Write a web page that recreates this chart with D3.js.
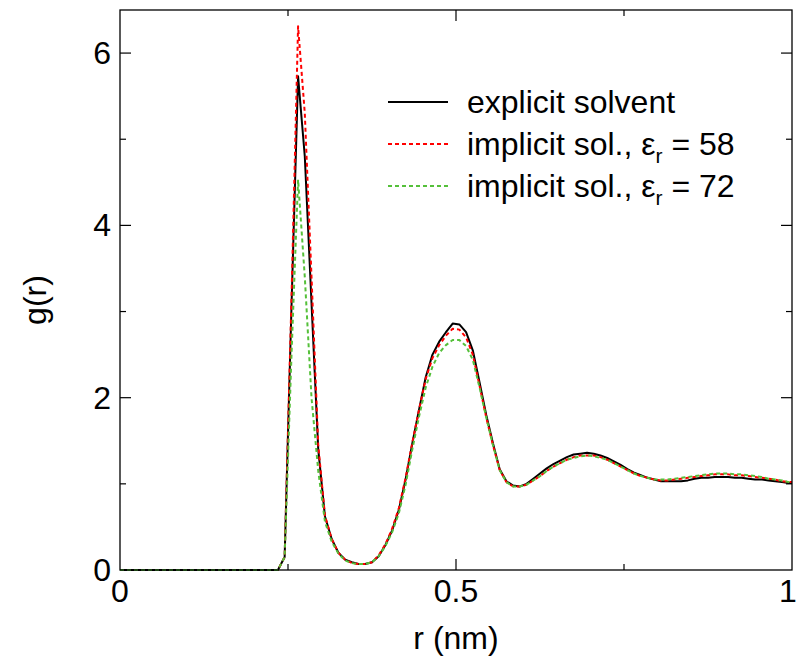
<!DOCTYPE html>
<html lang="en">
<head>
    <meta charset="UTF-8">
    <title>g(r)</title>
    <script src="https://cdn.jsdelivr.net/npm/d3@7"></script>
    <style>
        body { margin: 0; background: #fff; }
        text { font-family: "Liberation Sans", Arial, sans-serif; }
    </style>
</head>
<body>
<div id="container"></div>
<script>
    // r grid (nm)
    let r = [0, 0.235, 0.245, 0.255, 0.265, 0.275, 0.285, 0.295, 0.305, 0.315,
        0.325, 0.335, 0.345, 0.355, 0.365, 0.375, 0.385, 0.395, 0.405, 0.415,
        0.425, 0.435, 0.445, 0.455, 0.465, 0.475, 0.485, 0.495, 0.505, 0.515,
        0.525, 0.535, 0.545, 0.555, 0.565, 0.575, 0.585, 0.595, 0.605, 0.615,
        0.625, 0.635, 0.645, 0.655, 0.665, 0.675, 0.685, 0.695, 0.705, 0.715,
        0.725, 0.735, 0.745, 0.755, 0.765, 0.775, 0.785, 0.795, 0.805, 0.815,
        0.825, 0.835, 0.845, 0.855, 0.865, 0.875, 0.885, 0.895, 0.905, 0.915,
        0.925, 0.935, 0.945, 0.955, 0.965, 0.975, 0.985, 0.995, 1.0]

    let explicitG = [0, 0, 0.15, 3.0, 5.73, 4.8, 3.1, 1.40, 0.62, 0.36,
        0.20, 0.12, 0.09, 0.07, 0.07, 0.09, 0.16, 0.29, 0.46, 0.70,
        1.05, 1.47, 1.86, 2.24, 2.50, 2.65, 2.76, 2.86, 2.85, 2.76,
        2.55, 2.18, 1.80, 1.47, 1.17, 1.03, 0.98, 0.97, 1.00, 1.06,
        1.12, 1.18, 1.23, 1.27, 1.31, 1.34, 1.35, 1.36, 1.35, 1.33,
        1.30, 1.26, 1.22, 1.17, 1.13, 1.10, 1.07, 1.05, 1.03, 1.03,
        1.03, 1.03, 1.04, 1.06, 1.07, 1.07, 1.08, 1.08, 1.08, 1.07,
        1.07, 1.06, 1.05, 1.05, 1.04, 1.03, 1.02, 1.01, 1.01]

    let implicit58 = [0, 0, 0.15, 3.1, 6.31, 5.3, 3.4, 1.45, 0.63, 0.36,
        0.20, 0.12, 0.08, 0.07, 0.07, 0.09, 0.17, 0.30, 0.48, 0.72,
        1.07, 1.48, 1.86, 2.22, 2.46, 2.61, 2.72, 2.80, 2.79, 2.70,
        2.50, 2.14, 1.77, 1.45, 1.16, 1.02, 0.97, 0.97, 0.99, 1.04,
        1.09, 1.15, 1.20, 1.24, 1.28, 1.31, 1.33, 1.33, 1.33, 1.31,
        1.28, 1.24, 1.20, 1.16, 1.12, 1.09, 1.07, 1.05, 1.04, 1.04,
        1.05, 1.06, 1.07, 1.08, 1.09, 1.10, 1.11, 1.11, 1.11, 1.10,
        1.10, 1.09, 1.08, 1.07, 1.06, 1.05, 1.03, 1.02, 1.02]

    let implicit72 = [0, 0, 0.15, 2.45, 4.53, 3.4, 2.0, 1.15, 0.56, 0.33,
        0.19, 0.11, 0.08, 0.07, 0.07, 0.09, 0.16, 0.28, 0.44, 0.66,
        0.99, 1.40, 1.78, 2.12, 2.36, 2.52, 2.61, 2.67, 2.67, 2.60,
        2.44, 2.12, 1.77, 1.45, 1.16, 1.02, 0.97, 0.97, 0.99, 1.04,
        1.09, 1.15, 1.20, 1.24, 1.28, 1.30, 1.32, 1.33, 1.32, 1.30,
        1.28, 1.24, 1.20, 1.16, 1.12, 1.09, 1.07, 1.05, 1.05, 1.05,
        1.06, 1.07, 1.08, 1.09, 1.10, 1.11, 1.12, 1.12, 1.12, 1.11,
        1.11, 1.10, 1.09, 1.08, 1.06, 1.05, 1.04, 1.02, 1.02]

    let xTicks = [0, 0.5, 1]
    let xMinor = [0.25, 0.75]
    let yTicks = [0, 2, 4, 6]
    let yMinor = [1, 3, 5]

    let width = 798
    let height = 662
    let padLeft = 120, padRight = 792, padTop = 10, padBottom = 570

    let svg = d3.select('#container')
        .append('svg')
        .attr('width', width)
        .attr('height', height)

    let x_axis = d3.scaleLinear().domain([0, 1]).range([padLeft, padRight])
    let y_axis = d3.scaleLinear().domain([0, 6.5]).range([padBottom, padTop])

    // curves: black first, dashed ones on top
    let series = [
        {name: 'explicit', vals: explicitG, color: '#000000', dash: null, w: 2},
        {name: 'eps58', vals: implicit58, color: '#ff0000', dash: '4,3', w: 2},
        {name: 'eps72', vals: implicit72, color: '#55c03a', dash: '4,3', w: 2}
    ]

    let line = d3.line()
        .x(function (d) { return x_axis(d[0]) })
        .y(function (d) { return y_axis(d[1]) })

    series.forEach(function (s) {
        svg.append('path')
            .datum(r.map(function (v, i) { return [v, s.vals[i]] }))
            .attr('d', line)
            .attr('fill', 'none')
            .attr('stroke', s.color)
            .attr('stroke-width', s.w)
            .attr('stroke-dasharray', s.dash)
            .attr('stroke-linejoin', 'round')
    })

    // frame
    svg.append('rect')
        .attr('x', padLeft).attr('y', padTop)
        .attr('width', padRight - padLeft).attr('height', padBottom - padTop)
        .attr('fill', 'none').attr('stroke', '#000').attr('stroke-width', 1.3)

    // ticks pointing in, mirrored on top and right
    let ticks = svg.append('g').attr('stroke', '#000').attr('stroke-width', 1.2)
    function xt(vals, len) {
        vals.forEach(function (v) {
            ticks.append('line').attr('x1', x_axis(v)).attr('x2', x_axis(v))
                .attr('y1', padBottom).attr('y2', padBottom - len)
            ticks.append('line').attr('x1', x_axis(v)).attr('x2', x_axis(v))
                .attr('y1', padTop).attr('y2', padTop + len)
        })
    }
    function yt(vals, len) {
        vals.forEach(function (v) {
            ticks.append('line').attr('y1', y_axis(v)).attr('y2', y_axis(v))
                .attr('x1', padLeft).attr('x2', padLeft + len)
            ticks.append('line').attr('y1', y_axis(v)).attr('y2', y_axis(v))
                .attr('x1', padRight).attr('x2', padRight - len)
        })
    }
    xt(xTicks.slice(1, 2), 11)
    xt(xMinor, 6)
    yt(yTicks.slice(1), 11)
    yt(yMinor, 6)

    // last label sits at the window edge, pull it in a little
    svg.selectAll('.xl')
        .data(xTicks)
        .enter()
        .append('text')
        .attr('x', function (d) { return d === 1 ? x_axis(d) - 4 : x_axis(d) })
        .attr('y', 602)
        .attr('text-anchor', 'middle')
        .attr('font-size', 32)
        .text(function (d) { return d })

    svg.selectAll('.yl')
        .data(yTicks)
        .enter()
        .append('text')
        .attr('x', 111)
        .attr('y', function (d) { return y_axis(d) + 11 })
        .attr('text-anchor', 'end')
        .attr('font-size', 32)
        .text(function (d) { return d })

    svg.append('text')
        .attr('x', 456).attr('y', 649)
        .attr('text-anchor', 'middle')
        .attr('font-size', 32)
        .text('r (nm)')

    svg.append('text')
        .attr('transform', 'translate(46,300) rotate(-90)')
        .attr('text-anchor', 'middle')
        .attr('font-size', 32)
        .text('g(r)')

    // legend
    let legend = svg.append('g')
    series.forEach(function (s, i) {
        let ly = 102 + i * 42
        legend.append('line')
            .attr('x1', 388).attr('x2', 448)
            .attr('y1', ly).attr('y2', ly)
            .attr('stroke', s.color)
            .attr('stroke-width', s.w)
            .attr('stroke-dasharray', s.dash)
        let t = legend.append('text')
            .attr('x', 467).attr('y', ly + 11)
            .attr('font-size', 32)
        if (i === 0) {
            t.text('explicit solvent')
        } else {
            t.append('tspan').text('implicit sol., \u03b5')
            t.append('tspan').attr('font-size', 21).attr('dy', 8).text('r')
            t.append('tspan').attr('dy', -8).text(' = ' + (i === 1 ? '58' : '72'))
        }
    })
</script>
</body>
</html>
